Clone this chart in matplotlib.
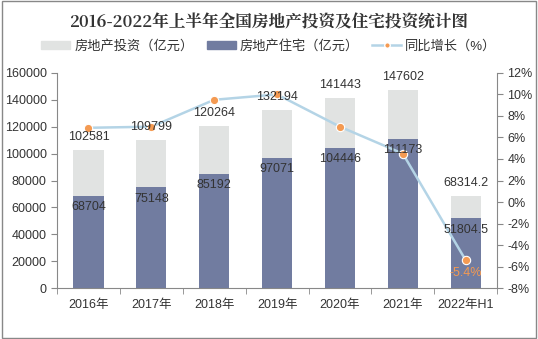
import numpy as np
import matplotlib.pyplot as plt
from matplotlib.patches import Rectangle

plt.rcParams['font.family'] = ['Liberation Sans', 'Noto Sans CJK SC', 'DejaVu Sans']

years = ['2016年', '2017年', '2018年', '2019年', '2020年', '2021年', '2022年H1']
invest = [102581, 109799, 120264, 132194, 141443, 147602, 68314.2]
invest_lbl = ['102581', '109799', '120264', '132194', '141443', '147602', '68314.2']
house = [68704, 75148, 85192, 97071, 104446, 111173, 51804.5]
house_lbl = ['68704', '75148', '85192', '97071', '104446', '111173', '51804.5']
growth = [6.9, 7.0, 9.5, 10.0, 7.0, 4.5, -5.4]

c_inv = '#e1e3e2'
c_house = '#717ca0'
c_line = '#b4d4e6'
c_dot = '#f49a52'
c_axis = '#888888'

fig = plt.figure(figsize=(5.38, 3.39), dpi=100)
ax = fig.add_axes([0.106, 0.150, 0.818, 0.635])
x = np.arange(len(years))
w = 0.48
ax.bar(x, invest, w, color=c_inv, zorder=2)
ax.bar(x, house, w, color=c_house, zorder=3)
ax.set_xlim(-0.5, len(years) - 0.5)
ax.set_ylim(0, 160000)
ax.set_yticks(range(0, 160001, 20000))
ax.set_xticks(x)
ax.set_xticklabels(years)
ax.set_xticks(np.arange(-0.5, len(years), 1), minor=True)
ax.tick_params(axis='x', which='major', length=0, pad=8, labelsize=9, colors='#333333')
ax.tick_params(axis='x', which='minor', length=4, color=c_axis)
ax.tick_params(axis='y', length=4, color=c_axis, labelsize=9, labelcolor='#333333')
for s in ['top', 'right']:
    ax.spines[s].set_visible(False)
for s in ['left', 'bottom']:
    ax.spines[s].set_color(c_axis)

ax2 = ax.twinx()
ax2.plot(x, growth, color=c_line, lw=1.8, marker='o', ms=6, mfc=c_dot, mec='white', mew=0.8, zorder=2)
ax2.set_ylim(-8, 12)
ax2.set_yticks(range(-8, 13, 2))
ax2.set_yticklabels([f'{v}%' for v in range(-8, 13, 2)])
ax2.tick_params(axis='y', length=4, color=c_axis, labelsize=9, labelcolor='#333333')
for s in ['top', 'left', 'bottom']:
    ax2.spines[s].set_visible(False)
ax2.spines['right'].set_color(c_axis)
ax2.annotate(f'{growth[-1]}%', (x[-1], growth[-1]), xytext=(0, -5), textcoords='offset points',
             ha='center', va='top', fontsize=9, color=c_dot)

# data labels drawn on the twin axis so they sit above the line
for i in range(len(years)):
    ax2.annotate(invest_lbl[i], (x[i], invest[i]), xycoords=ax.transData, xytext=(0, 5),
                 textcoords='offset points', ha='center', va='bottom', fontsize=9,
                 color='#333333', zorder=6)
    ax2.annotate(house_lbl[i], (x[i], house[i]), xycoords=ax.transData, xytext=(0, -4),
                 textcoords='offset points', ha='center', va='top', fontsize=9,
                 color='#333333', zorder=6)

fig.text(0.5, 1 - 22 / 339, '2016-2022年上半年全国房地产投资及住宅投资统计图',
         ha='center', va='center', fontsize=12, fontweight='bold', color='#333333',
         family=['Noto Serif CJK SC', 'Noto Sans CJK SC'])

h1 = Rectangle((0, 0), 1, 1, color=c_inv)
h2 = Rectangle((0, 0), 1, 1, color=c_house)
h3 = plt.Line2D([], [], color=c_line, lw=1.8, marker='o', ms=4, mfc=c_dot, mec='white')
fig.legend([h1, h2, h3], ['房地产投资（亿元）', '房地产住宅（亿元）', '同比增长（%）'],
           loc='center', bbox_to_anchor=(0.5, 1 - 46 / 339), ncol=3, frameon=False,
           fontsize=9.5, handlelength=2.2, handleheight=0.6, columnspacing=1.0, handletextpad=0.3,
           labelcolor='#333333')

fig.add_artist(Rectangle((0.003, 0.003), 0.994, 0.994, transform=fig.transFigure,
                         fill=False, ec='#888888', lw=1))
fig.savefig('out.png', dpi=100)
